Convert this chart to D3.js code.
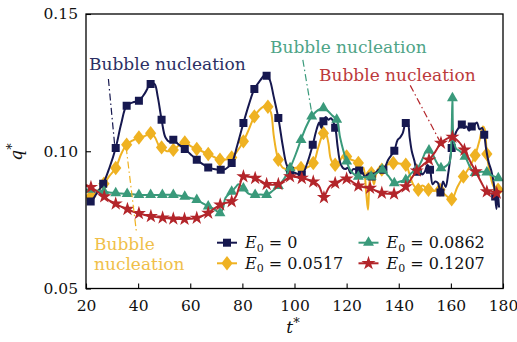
<!DOCTYPE html>
<html>
<head>
<meta charset="utf-8">
<script src="https://cdn.jsdelivr.net/npm/d3@7"></script>
<style>
  html, body { margin: 0; padding: 0; background: #fff; }
  svg { display: block; }
  text { font-family: "DejaVu Serif", serif; }
</style>
</head>
<body>
<svg id="chart" width="517" height="342"></svg>
<script>
// ---- data: q* versus t* for four field strengths E0 ----
const seriesNames = ["E0 = 0", "E0 = 0.0517", "E0 = 0.0862", "E0 = 0.1207"];
const legendValues = ["0", "0.0517", "0.0862", "0.1207"];
const xTicks = [20, 40, 60, 80, 100, 120, 140, 160, 180];
const yTicks = [0.05, 0.10, 0.15];

// curve samples [t*, q*]
const lineE0 = [
  [20.5,.0825],[21.8,.0817],[24,.0845],[26.6,.0882],[29,.094],[31.4,.1012],[33.5,.110],[35.6,.1166],
  [38,.1178],[40.3,.1184],[42.5,.121],[44.8,.1245],[46.3,.1245],[47.5,.120],[49.0,.1115],[50.5,.105],
  [52,.1035],[53.5,.1042],[55.5,.1025],[57.9,.1008],[60,.099],[62.5,.0969],[64.5,.0955],[66.9,.0941],
  [69,.0935],[71.7,.0933],[73.5,.0935],[75.9,.0957],[78,.102],[80.4,.1103],[82.5,.117],[84.6,.1227],
  [87,.126],[88.3,.1275],[89.3,.1275],[90.5,.126],[92,.120],[93.8,.1121],[95.5,.102],[97,.095],
  [98.3,.0929],[100.5,.092],[102.8,.0914],[105,.096],[107,.1024],[108.5,.108],[109.5,.1105],[110.3,.1085],
  [111.1,.1109],[112,.1125],[113,.1115],[114,.112],[115.6,.1086],[116.5,.102],[117.5,.096],[118.5,.094],
  [119.5,.0935],[120.5,.094],[121.5,.092],[122.5,.0935],[124.8,.093],[126,.0925],[127,.0905],[128,.0915],
  [129.6,.0908],[131,.092],[132.5,.0935],[134.1,.0933],[136,.097],[138.3,.1002],[139.5,.104],[140.5,.105],
  [141.5,.1065],[142.7,.1103],[143.5,.110],[144.2,.105],[145,.100],[146,.0965],[147,.0925],[148,.094],
  [149,.0915],[150,.0925],[151,.095],[152,.0933],[153,.088],[154,.089],[155,.0885],[156,.085],
  [157,.089],[158,.087],[159,.092],[160.3,.1012],[161,.104],[162,.107],[163,.1085],[164.2,.1097],
  [165,.1085],[166,.109],[167,.1075],[168,.109],[169,.1095],[170,.1105],[171,.108],[172,.1085],
  [172.8,.106],[173.5,.101],[174.5,.096],[175.5,.093],[176.5,.088],[177,.0835],[177.5,.079],[178,.0845],
  [178.5,.0795]
];
const lineE1 = [
  [20.5,.0825],[21.8,.0835],[24,.085],[26.9,.0882],[29,.091],[31.4,.0939],[33.5,.099],[35.6,.1024],
  [38,.104],[40.3,.105],[42.5,.1055],[44.8,.1066],[46.5,.105],[48,.102],[49.0,.1014],[51,.100],
  [53.5,.1005],[55.5,.102],[57.9,.1032],[60,.102],[62.5,.1008],[64.5,.100],[66.9,.099],[69,.098],
  [71.4,.0969],[73.5,.097],[75.9,.0977],[78,.100],[80.4,.1036],[82.5,.108],[84.6,.1127],[86.5,.115],
  [88.5,.1165],[89.8,.1162],[91,.114],[92,.106],[93,.100],[93.8,.0969],[95.5,.094],[97,.0935],
  [98.3,.0933],[100.5,.094],[102.5,.0939],[104.5,.094],[107.2,.0957],[109,.101],[110.5,.1055],[111.1,.1066],
  [112,.1065],[113,.103],[114,.097],[115.6,.0951],[117,.096],[118.5,.098],[120,.0981],[121.5,.097],
  [123,.0965],[124.5,.0957],[125.5,.092],[126.5,.094],[127.5,.085],[128.2,.0787],[128.8,.089],[129.5,.092],
  [130.5,.088],[131.5,.092],[133.5,.0933],[135.5,.095],[137.9,.0957],[140,.0955],[142.7,.0951],[144,.092],
  [145.5,.088],[147.5,.086],[149,.0875],[151.4,.086],[153.5,.0855],[155.8,.086],[158,.084],[160.3,.0825],
  [162.5,.087],[164.8,.0908],[167,.094],[169.3,.0985],[171,.104],[172.3,.109],[173,.108],[173.8,.099],
  [175,.092],[176.5,.087],[178.1,.086],[178.5,.0875]
];
const lineE2 = [
  [20,.086],[21.8,.086],[24,.0857],[26.9,.0853],[29,.085],[31.4,.0848],[33.5,.0846],[35.8,.0845],
  [38,.0843],[40.3,.0841],[44.8,.0841],[49.3,.0841],[53.5,.0841],[55.5,.0839],[57.9,.0835],[60,.083],
  [62.5,.0823],[64.5,.0812],[66.9,.0799],[69,.079],[71.4,.0775],[72.5,.079],[73.5,.083],[75.9,.0853],
  [77.5,.087],[78.5,.088],[80.4,.0865],[82.5,.0845],[84.9,.0841],[87,.0842],[89.3,.0841],[91.5,.0855],
  [93.8,.0874],[96,.090],[98.3,.0939],[100.5,.099],[102.5,.1042],[104.5,.109],[106.6,.1127],[109,.115],
  [111.1,.1157],[113,.1145],[114.5,.113],[116.2,.1115],[117.5,.105],[118.8,.100],[120.0,.0963],[121.5,.093],
  [123,.0915],[124.5,.0908],[126.5,.0905],[129.4,.0908],[131.5,.092],[133.7,.0933],[136,.091],[138.3,.0884],
  [140.5,.089],[142.7,.0896],[144.8,.092],[146.9,.0933],[149,.097],[150.5,.100],[151.6,.1003],[153,.099],
  [154.5,.096],[156.2,.0939],[158,.0945],[159.5,.096],[160.2,.104],[160.6,.1194],[161,.105],[162,.101],
  [163.5,.100],[165.4,.0981],[167.5,.094],[169.3,.0921],[171.5,.0925],[173.8,.0923],[176,.091],[178.2,.0902],
  [178.5,.090]
];
const lineE3 = [
  [20,.0877],[21.9,.0869],[24.5,.0852],[27.0,.0835],[29,.082],[31.4,.0809],[33.5,.0798],[35.9,.0789],
  [38,.078],[40.3,.0774],[42.5,.0768],[44.9,.0763],[47,.076],[49.4,.0758],[51.5,.0756],[53.5,.0754],
  [55.5,.0753],[57.8,.0753],[60,.0754],[62.5,.0757],[64.5,.0764],[66.9,.0775],[69,.079],[71.5,.0805],
  [73.5,.0812],[75.9,.0817],[77.5,.0835],[78.8,.087],[80.4,.0908],[82.5,.0907],[84.9,.0902],[87,.0892],
  [89.3,.088],[91.5,.0878],[93.8,.088],[96,.0892],[98.3,.0908],[100.5,.0906],[102.8,.0902],[105,.0897],
  [107.2,.0889],[109.3,.0875],[110.6,.0845],[111.3,.0832],[112,.0845],[113.5,.0872],[115.6,.0884],[117.8,.0895],
  [120.0,.090],[122.3,.0888],[124.5,.0874],[126.8,.0869],[129.0,.0866],[131.3,.0856],[133.5,.0848],[135.8,.0845],
  [138.2,.0845],[140.5,.0855],[142.7,.0871],[144.8,.090],[146.9,.0929],[149.3,.095],[151.6,.0969],[154,.0998],
  [156.2,.103],[158.5,.1046],[160.6,.1052],[163,.1035],[165.2,.1005],[167.3,.0965],[169.5,.0926],[171.7,.0886],
  [173.8,.0853],[175.8,.0845],[177.6,.0848],[178.5,.0858]
];

// positions (t*) of the plotted markers along each curve
const marksE0 = [21.8,26.6,31.4,35.6,40.3,44.8,49.0,53.5,57.9,62.5,66.9,71.7,75.9,80.4,84.6,89.3,93.8,98.3,102.8,107,111.1,115.6,124.8,129.6,134.1,138.3,142.7,147,152,156,160.3,164.2,168,172.8,177];
const marksE1 = [21.8,26.9,31.4,35.6,40.3,44.8,49.0,53.5,57.9,62.5,66.9,71.4,75.9,80.4,84.6,89.8,93.8,98.3,102.5,107.2,111.1,115.6,120,124.5,129.5,133.5,137.9,142.7,147.5,151.4,155.8,160.3,164.8,169.3,173.8,178.1];
const marksE2 = [21.8,26.9,31.4,35.8,40.3,44.8,49.3,53.5,57.9,62.5,66.9,71.4,75.9,80.4,84.9,89.3,93.8,98.3,102.5,106.6,111.1,116.2,120.0,124.5,129.4,133.7,138.3,142.7,146.9,151.6,156.2,160.6,165.4,169.3,173.8,178.2];
const marksE3 = [21.9,27.0,31.4,35.9,40.3,44.9,49.4,53.5,57.8,62.5,66.9,71.5,75.9,80.4,84.9,89.3,93.8,98.3,102.8,107.2,111.3,115.6,120.0,124.5,129.0,133.5,138.2,142.7,146.9,151.6,156.2,160.6,165.2,169.5,173.8,177.6];

// annotation arrows: [t, q] start (near the label) and end (on the curve)
const noteE0 = [[28.6, .1263], [31.2, .1003]];
const noteE1 = [[35.4, .1015], [39.3, .0710]];
const noteE2 = [[103.2, .1333], [107.0, .1118]];
const noteE3 = [[144.4, .1240], [156.4, .1025]];

// ---- layout ----
const svg = d3.select("#chart");
const x = d3.scaleLinear().domain([20, 180]).range([86, 503]);
const y = d3.scaleLinear().domain([0.05, 0.15]).range([288.5, 14]);

const colors = ["#16184f", "#efb222", "#3a9a7b", "#b3252a"];

// axes with inward ticks
svg.append("g")
  .attr("transform", `translate(0,${y(0.05)})`)
  .call(d3.axisBottom(x).tickValues(xTicks).tickFormat(d3.format("d")).tickSizeInner(-5).tickSizeOuter(0).tickPadding(11))
  .call(g => g.select(".domain").remove())
  .call(g => g.selectAll("line").attr("stroke", "#000").attr("stroke-width", 1.1))
  .call(g => g.selectAll("text").attr("font-size", 15.5).attr("fill", "#111").attr("font-family", "DejaVu Serif"));

svg.append("g")
  .attr("transform", `translate(${x(20)},0)`)
  .call(d3.axisLeft(y).tickValues(yTicks).tickFormat(d3.format(".2f")).tickSizeInner(-5).tickSizeOuter(0).tickPadding(8))
  .call(g => g.select(".domain").remove())
  .call(g => g.selectAll("line").attr("stroke", "#000").attr("stroke-width", 1.1))
  .call(g => g.selectAll("text").attr("font-size", 15.5).attr("fill", "#111").attr("font-family", "DejaVu Serif"));

// clip for data
svg.append("clipPath").attr("id", "plotclip")
  .append("rect").attr("x", x(20)).attr("y", y(0.15)).attr("width", x(180) - x(20)).attr("height", y(0.05) - y(0.15));

const plot = svg.append("g").attr("clip-path", "url(#plotclip)");

const line = d3.line().x(d => x(d[0])).y(d => y(d[1])).curve(d3.curveCatmullRom.alpha(0.5));

const lines = [lineE0, lineE1, lineE2, lineE3];
const marks = [marksE0, marksE1, marksE2, marksE3];

// marker shapes
const diamond = { draw(ctx, size) { const h = Math.sqrt(size) * 0.72, w = h * 0.78;
  ctx.moveTo(0, -h); ctx.lineTo(w, 0); ctx.lineTo(0, h); ctx.lineTo(-w, 0); ctx.closePath(); } };
const symbols = [
  d3.symbol().type(d3.symbolSquare).size(64),
  d3.symbol().type(diamond).size(100),
  d3.symbol().type(d3.symbolTriangle).size(52),
  d3.symbol().type(d3.symbolStar).size(62)
];

function qAt(series, t) {
  let best = series[0];
  for (const p of series) if (Math.abs(p[0] - t) < Math.abs(best[0] - t)) best = p;
  return best[1];
}

// draw in order so that later series sit on top
const order = [1, 0, 2, 3];
order.forEach(i => {
  plot.append("path").datum(lines[i])
    .attr("d", line).attr("fill", "none")
    .attr("stroke", colors[i]).attr("stroke-width", 2).attr("stroke-linejoin", "round");
  plot.selectAll(null).data(marks[i].map(t => [t, qAt(lines[i], t)])).join("path")
    .attr("transform", d => `translate(${x(d[0])},${y(d[1])})`)
    .attr("d", symbols[i]).attr("fill", colors[i]);
});

// frame
svg.append("rect").attr("x", x(20)).attr("y", y(0.15))
  .attr("width", x(180) - x(20)).attr("height", y(0.05) - y(0.15))
  .attr("fill", "none").attr("stroke", "#000").attr("stroke-width", 1.3);

// annotations
const notes = [noteE0, noteE1, noteE2, noteE3];
notes.forEach((n, i) => {
  svg.append("line")
    .attr("x1", x(n[0][0])).attr("y1", y(n[0][1])).attr("x2", x(n[1][0])).attr("y2", y(n[1][1]))
    .attr("stroke", colors[i]).attr("stroke-width", 1.2).attr("stroke-dasharray", "7,3,1.5,3");
});

const labelText = "Bubble nucleation";
svg.append("text").attr("x", 89).attr("y", 70).attr("font-size", 17).attr("fill", "#2c2f63").text(labelText);
svg.append("text").attr("x", 270).attr("y", 53).attr("font-size", 17).attr("fill", "#4ea487").text(labelText);
svg.append("text").attr("x", 319).attr("y", 81).attr("font-size", 17).attr("fill", "#bc3a3c").text(labelText);
svg.append("text").attr("x", 94).attr("y", 250).attr("font-size", 17).attr("fill", "#f0bf4a").text("Bubble");
svg.append("text").attr("x", 94).attr("y", 270).attr("font-size", 17).attr("fill", "#f0bf4a").text("nucleation");

// legend
const legendPos = [[217, 242.7], [217, 263.3], [358.5, 242.7], [358.5, 263.3]];
legendPos.forEach((p, i) => {
  const g = svg.append("g").attr("transform", `translate(${p[0]},${p[1]})`);
  g.append("line").attr("x1", 0).attr("x2", 20).attr("stroke", colors[i]).attr("stroke-width", 2);
  g.append("path").attr("transform", "translate(10,0)").attr("d", symbols[i]).attr("fill", colors[i]);
  const t = g.append("text").attr("x", 28).attr("y", 5.5).attr("font-size", 16).attr("fill", "#111");
  t.append("tspan").attr("font-style", "italic").text("E");
  t.append("tspan").attr("font-size", 11).attr("dy", 3.5).text("0");
  t.append("tspan").attr("dy", -3.5).text(" = " + legendValues[i]);
});

// axis titles
const xt = svg.append("text").attr("x", 293).attr("y", 333).attr("text-anchor", "middle").attr("font-size", 17).attr("fill", "#111");
xt.append("tspan").attr("font-style", "italic").text("t");
xt.append("tspan").attr("font-size", 13).attr("dy", -6).text("*");

const yt = svg.append("text").attr("transform", "translate(22,152) rotate(-90)").attr("text-anchor", "middle").attr("font-size", 17).attr("fill", "#111");
yt.append("tspan").attr("font-style", "italic").text("q");
yt.append("tspan").attr("font-size", 13).attr("dy", -6).text("*");
</script>
</body>
</html>
